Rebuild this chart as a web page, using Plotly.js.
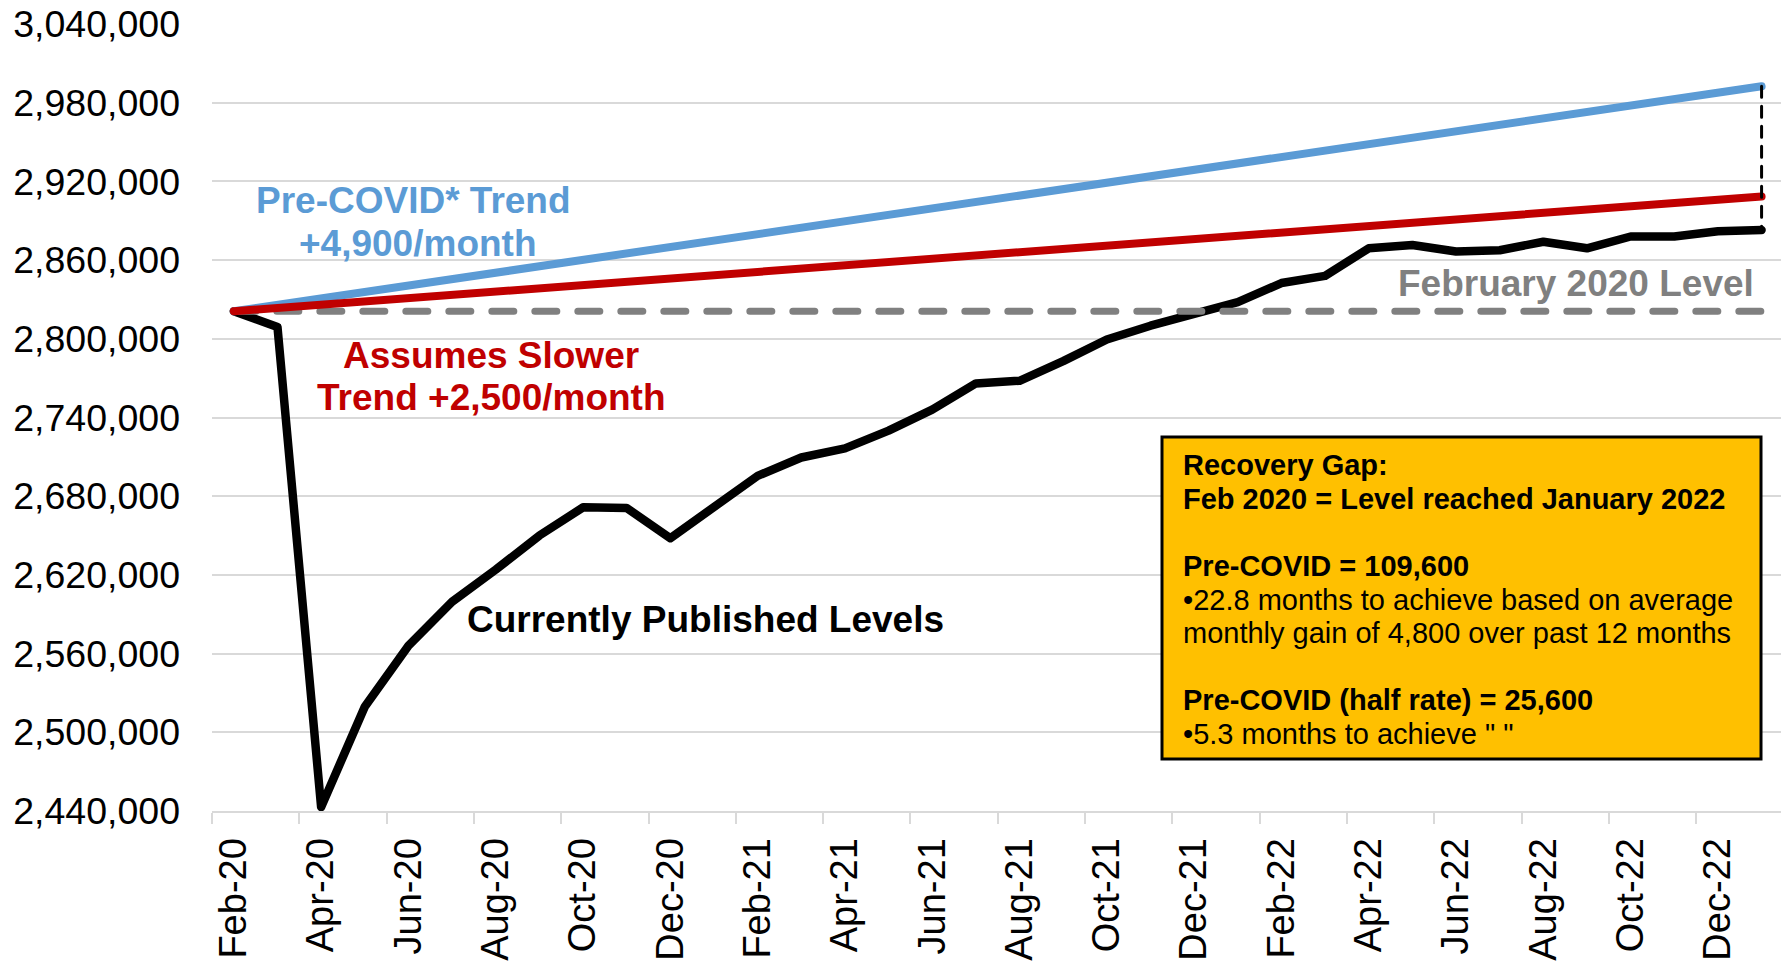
<!DOCTYPE html>
<html>
<head>
<meta charset="utf-8">
<script src="https://cdn.plot.ly/plotly-3.0.1.min.js"></script>
<style>
  html, body { margin: 0; padding: 0; background: #ffffff; }
  #chart { width: 1781px; height: 963px; }
  .scatterlayer .js-line { stroke-linecap: round !important; stroke-linejoin: round !important; }
</style>
</head>
<body>
<div id="chart"></div>
<script>
// ---- Data ----
const months = [
  "Feb-20","Mar-20","Apr-20","May-20","Jun-20","Jul-20","Aug-20","Sep-20","Oct-20","Nov-20","Dec-20",
  "Jan-21","Feb-21","Mar-21","Apr-21","May-21","Jun-21","Jul-21","Aug-21","Sep-21","Oct-21","Nov-21","Dec-21",
  "Jan-22","Feb-22","Mar-22","Apr-22","May-22","Jun-22","Jul-22","Aug-22","Sep-22","Oct-22","Nov-22","Dec-22",
  "Jan-23"
];
const publishedLevels = [
  2821000, 2809000, 2443000, 2519500, 2566000, 2599500, 2624000, 2650000, 2671500, 2671000, 2648000,
  2671000, 2695500, 2709500, 2716500, 2730000, 2746000, 2766000, 2768000, 2783000, 2799500, 2810000, 2819500,
  2828000, 2842500, 2848000, 2869000, 2871500, 2866500, 2867500, 2874000, 2869000, 2878000, 2878000, 2882000,
  2882900
];
const trendMonths = ["Feb-20", "Jan-23"];
const preCovidTrend = [2821000, 2992500];      // +4,900/month
const slowerTrend = [2821000, 2908500];        // +2,500/month
const feb2020Level = [2821000, 2821000];
const yTickStart = 2440000;
const yTickEnd = 3040000;
const yTickStep = 60000;

// ---- Layout helpers (pixel -> paper) ----
const W = 1781, H = 963;
const M = { l: 212, r: 0, t: 24, b: 152 };
const PW = W - M.l - M.r, PH = H - M.t - M.b;
const px = x => (x - M.l) / PW;
const py = y => (H - M.b - y) / PH;

const FONT = "Liberation Sans, Arial, Helvetica, sans-serif";

const lastIdx = months.length - 1;

const traces = [
  {
    x: months, y: publishedLevels, type: "scatter", mode: "lines",
    line: { color: "#000000", width: 8.5 }, hoverinfo: "skip", showlegend: false
  },
  {
    x: trendMonths, y: feb2020Level, type: "scatter", mode: "lines",
    line: { color: "#808080", width: 7, dash: "22px,21px" }, hoverinfo: "skip", showlegend: false
  },
  {
    x: trendMonths, y: preCovidTrend, type: "scatter", mode: "lines",
    line: { color: "#5B9BD5", width: 8 }, hoverinfo: "skip", showlegend: false
  },
  {
    x: trendMonths, y: slowerTrend, type: "scatter", mode: "lines",
    line: { color: "#C00000", width: 8 }, hoverinfo: "skip", showlegend: false
  },
  {
    x: [months[lastIdx], months[lastIdx]],
    y: [preCovidTrend[preCovidTrend.length - 1], publishedLevels[lastIdx]],
    type: "scatter", mode: "lines",
    line: { color: "#000000", width: 3, dash: "11px,9px" }, hoverinfo: "skip", showlegend: false
  }
];

function ann(text, x, y, color, size, bold, anchor) {
  return {
    xref: "paper", yref: "paper", x: px(x), y: py(y),
    xanchor: anchor || "center", yanchor: "middle",
    text: bold ? "<b>" + text + "</b>" : text,
    showarrow: false,
    font: { family: FONT, size: size, color: color },
    align: anchor === "left" ? "left" : (anchor === "right" ? "right" : "center")
  };
}

const boxLeft = 1181;
const annotations = [
  ann("Pre-COVID* Trend", 413, 201, "#5B9BD5", 37, true),
  ann("+4,900/month", 418, 243, "#5B9BD5", 37, true),
  ann("Assumes Slower", 491, 355, "#C00000", 37, true),
  ann("Trend +2,500/month", 491, 397, "#C00000", 37, true),
  ann("Currently Published Levels", 705, 619, "#000000", 37, true),
  ann("February 2020 Level", 1756, 284, "#808080", 37, true, "right"),
  ann("Recovery Gap:", boxLeft, 465, "#000000", 29, true, "left"),
  ann("Feb 2020 = Level reached January 2022", boxLeft, 499, "#000000", 29, true, "left"),
  ann("Pre-COVID = 109,600", boxLeft, 566, "#000000", 29, true, "left"),
  ann("•22.8 months to achieve based on average", boxLeft, 600, "#000000", 29, false, "left"),
  ann("monthly gain of 4,800 over past 12 months", boxLeft, 633, "#000000", 29, false, "left"),
  ann("Pre-COVID (half rate) = 25,600", boxLeft, 700, "#000000", 29, true, "left"),
  ann("•5.3 months to achieve \" \"", boxLeft, 734, "#000000", 29, false, "left")
];

const shapes = [
  {
    type: "rect", xref: "paper", yref: "paper",
    x0: px(1162), x1: px(1761), y0: py(759), y1: py(437),
    fillcolor: "#FFC000", line: { color: "#000000", width: 3 }, layer: "above"
  }
];

const layout = {
  width: W, height: H,
  margin: M,
  paper_bgcolor: "#ffffff", plot_bgcolor: "#ffffff",
  showlegend: false,
  font: { family: FONT, color: "#000000" },
  xaxis: {
    type: "category",
    categoryorder: "array", categoryarray: months,
    range: [-0.5, -0.5 + PW / 43.65],
    dtick: 2, tick0: 0,
    tickson: "boundaries",
    ticks: "outside", ticklen: 11, tickwidth: 2, tickcolor: "#D9D9D9",
    tickangle: -90,
    tickfont: { family: FONT, size: 38, color: "#000000" },
    showgrid: false, zeroline: false,
    showline: true, linecolor: "#D9D9D9", linewidth: 2,
    automargin: false, fixedrange: true,
    ticklabelstandoff: 10
  },
  yaxis: {
    range: [yTickStart, yTickEnd],
    tick0: yTickStart, dtick: yTickStep,
    tickformat: ",d",
    tickfont: { family: FONT, size: 37.5, color: "#000000" },
    showgrid: true, gridcolor: "#D9D9D9", gridwidth: 2,
    zeroline: false, showline: false, ticks: "",
    automargin: false, fixedrange: true,
    ticklabelstandoff: 31
  },
  shapes: shapes,
  annotations: annotations
};

Plotly.newPlot("chart", traces, layout, { displayModeBar: false, staticPlot: true });
</script>
</body>
</html>
